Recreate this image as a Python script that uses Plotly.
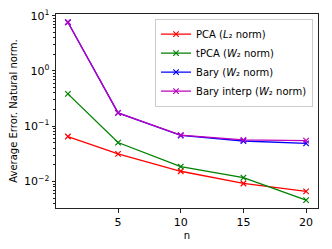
import plotly.graph_objects as go

n = [1, 5, 10, 15, 20]
pca = [0.065, 0.0316, 0.0153, 0.0092, 0.0066]
tpca = [0.384, 0.0506, 0.0186, 0.0117, 0.0046]
bary = [7.6, 0.174, 0.068, 0.054, 0.049]
bary_interp = [7.6, 0.174, 0.069, 0.0565, 0.055]

series = [
    ("PCA (<i>L</i>\u2082 norm)", pca, "#ff0000"),
    ("tPCA (<i>W</i>\u2082 norm)", tpca, "#008000"),
    ("Bary (<i>W</i>\u2082 norm)", bary, "#0000ff"),
    ("Bary interp (<i>W</i>\u2082 norm)", bary_interp, "#bf00bf"),
]

fig = go.Figure()
for name, vals, col in series:
    fig.add_trace(go.Scatter(
        x=n, y=vals, name=name, mode="lines+markers",
        line=dict(color=col, width=1.3),
        marker=dict(symbol="x-thin", size=5.5, line=dict(color=col, width=1.2)),
    ))

ytv = [0.01, 0.1, 1, 10]
ytt = ["10<sup>\u22122</sup>", "10<sup>\u22121</sup>", "10<sup>0</sup>", "10<sup>1</sup>"]
minor = []
for d in [0.001, 0.01, 0.1, 1, 10]:
    for k in range(2, 10):
        minor.append(d * k)

fig.update_layout(
    width=332, height=249,
    margin=dict(l=56, r=14, t=14, b=41),
    paper_bgcolor="white", plot_bgcolor="white",
    font=dict(family="DejaVu Sans", size=10, color="black"),
    showlegend=True,
    legend=dict(x=0.981, y=0.976, xanchor="right", yanchor="top",
                bgcolor="rgba(255,255,255,0.8)", bordercolor="#cccccc", borderwidth=1,
                font=dict(size=10), tracegroupgap=0, itemwidth=30),
    xaxis=dict(range=[0.05, 20.95], tickvals=[5, 10, 15, 20], showgrid=False, zeroline=False,
               automargin=False,
               showline=True, mirror=True, linecolor="#222", linewidth=1,
               ticks="outside", ticklen=3.5, tickcolor="#222", tickfont=dict(size=11),
               title=dict(text="n", font=dict(size=10), standoff=4)),
    yaxis=dict(type="log", range=[-2.48, 1.03], tickvals=ytv, ticktext=ytt, showgrid=False, zeroline=False,
               automargin=False,
               showline=True, mirror=True, linecolor="#222", linewidth=1,
               ticks="outside", ticklen=3.5, tickcolor="#222", tickfont=dict(size=11),
               minor=dict(tickvals=minor, ticks="outside", ticklen=2, tickcolor="#222"),
               title=dict(text="Average Error. Natural norm.", font=dict(size=10), standoff=4)),
)

fig.write_html("out.html", config={"displayModeBar": False},
               post_script="document.body.style.margin='0';")
